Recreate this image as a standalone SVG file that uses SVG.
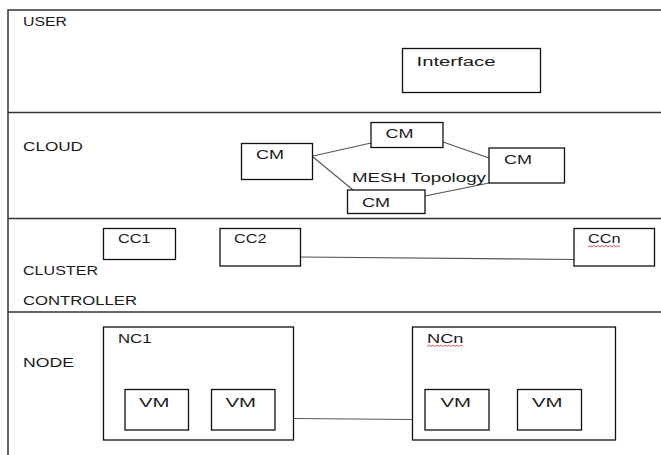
<svg xmlns="http://www.w3.org/2000/svg" width="661" height="455" viewBox="0 0 661 455">
<style>
  .lane { fill: none; stroke: #333; stroke-width: 1.5; }
  .box { fill: #fff; stroke: #111; stroke-width: 1.3; }
  .t { font-family: "Liberation Sans", Arial, sans-serif; font-size: 12px; fill: #1a1a1a; }
  .conn { fill: none; stroke: #555; stroke-width: 1.1; }
  .sq { fill: none; stroke: #e03030; stroke-width: 0.8; }
</style>
<rect width="661" height="455" fill="#fff"/>
<g id="lanes">
  <polyline class="lane" points="661,10 8,10 8,455"/>
  <line class="lane" x1="8" y1="112.5" x2="661" y2="112.5"/>
  <line class="lane" x1="8" y1="218.5" x2="661" y2="218.5"/>
  <line class="lane" x1="8" y1="312" x2="661" y2="312"/>
  <text class="t" x="23" y="26" textLength="44" lengthAdjust="spacingAndGlyphs">USER</text>
  <text class="t" x="23" y="151" textLength="60" lengthAdjust="spacingAndGlyphs">CLOUD</text>
  <text class="t" x="23" y="275" textLength="75" lengthAdjust="spacingAndGlyphs">CLUSTER</text>
  <text class="t" x="23" y="305" textLength="114" lengthAdjust="spacingAndGlyphs">CONTROLLER</text>
  <text class="t" x="23" y="367" textLength="51" lengthAdjust="spacingAndGlyphs">NODE</text>
</g>
<g id="connectors">
  <line class="conn" x1="313" y1="156" x2="371" y2="143"/>
  <line class="conn" x1="443" y1="142" x2="489" y2="158"/>
  <line class="conn" x1="313" y1="157" x2="353" y2="190"/>
  <line class="conn" x1="425" y1="196" x2="489" y2="183"/>
  <line class="conn" x1="300" y1="257" x2="574" y2="259.5"/>
  <line class="conn" x1="293" y1="418.5" x2="412" y2="419.5"/>
</g>
<g id="interface">
  <rect class="box" x="402.5" y="48.5" width="138" height="44"/>
  <text class="t" x="416.5" y="66" textLength="79" lengthAdjust="spacingAndGlyphs">Interface</text>
</g>
<g id="cm1">
  <rect class="box" x="241.5" y="143.5" width="71" height="36"/>
  <text class="t" x="256" y="159" textLength="28" lengthAdjust="spacingAndGlyphs">CM</text>
</g>
<g id="cm2">
  <rect class="box" x="371" y="122.5" width="72" height="25"/>
  <text class="t" x="385.5" y="138" textLength="28" lengthAdjust="spacingAndGlyphs">CM</text>
</g>
<g id="cm3">
  <rect class="box" x="489" y="148" width="75.5" height="35"/>
  <text class="t" x="504" y="164" textLength="28" lengthAdjust="spacingAndGlyphs">CM</text>
</g>
<g id="cm4">
  <rect class="box" x="347.5" y="190" width="77.5" height="23.5"/>
  <text class="t" x="362" y="207" textLength="28" lengthAdjust="spacingAndGlyphs">CM</text>
</g>
<g id="mesh-label">
  <text class="t" x="352" y="181.5" textLength="134" lengthAdjust="spacingAndGlyphs">MESH Topology</text>
</g>
<g id="cc1">
  <rect class="box" x="103.5" y="228.5" width="72" height="31"/>
  <text class="t" x="118" y="243" textLength="32.5" lengthAdjust="spacingAndGlyphs">CC1</text>
</g>
<g id="cc2">
  <rect class="box" x="220" y="228.5" width="80.5" height="37.5"/>
  <text class="t" x="234" y="243" textLength="32.5" lengthAdjust="spacingAndGlyphs">CC2</text>
</g>
<g id="ccn">
  <rect class="box" x="574" y="228.5" width="80.5" height="37.5"/>
  <text class="t" x="588" y="243" textLength="32.5" lengthAdjust="spacingAndGlyphs">CCn</text>
  <polyline class="sq" points="588,247 590,245.5 592,247 594,245.5 596,247 598,245.5 600,247 602,245.5 604,247 606,245.5 608,247 610,245.5 612,247 614,245.5 616,247 618,245.5 620,247"/>
</g>
<g id="nc1">
  <rect class="box" x="103.5" y="327" width="190" height="113"/>
  <text class="t" x="118" y="343" textLength="33.5" lengthAdjust="spacingAndGlyphs">NC1</text>
</g>
<g id="vm1">
  <rect class="box" x="125" y="389.5" width="63.5" height="40.5"/>
  <text class="t" x="139" y="407" textLength="30.5" lengthAdjust="spacingAndGlyphs">VM</text>
</g>
<g id="vm2">
  <rect class="box" x="211.5" y="389.5" width="63.5" height="40.5"/>
  <text class="t" x="225.5" y="407" textLength="30.5" lengthAdjust="spacingAndGlyphs">VM</text>
</g>
<g id="ncn">
  <rect class="box" x="412.5" y="327" width="203" height="113"/>
  <text class="t" x="427" y="343" textLength="36.5" lengthAdjust="spacingAndGlyphs">NCn</text>
  <polyline class="sq" points="427,346.5 429,345 431,346.5 433,345 435,346.5 437,345 439,346.5 441,345 443,346.5 445,345 447,346.5 449,345 451,346.5 453,345 455,346.5 457,345 459,346.5 461,345 463,346.5"/>
</g>
<g id="vm3">
  <rect class="box" x="425" y="389.5" width="64" height="40.5"/>
  <text class="t" x="440.5" y="407" textLength="30.5" lengthAdjust="spacingAndGlyphs">VM</text>
</g>
<g id="vm4">
  <rect class="box" x="517.5" y="389.5" width="64" height="40.5"/>
  <text class="t" x="532" y="407" textLength="30.5" lengthAdjust="spacingAndGlyphs">VM</text>
</g>
</svg>
